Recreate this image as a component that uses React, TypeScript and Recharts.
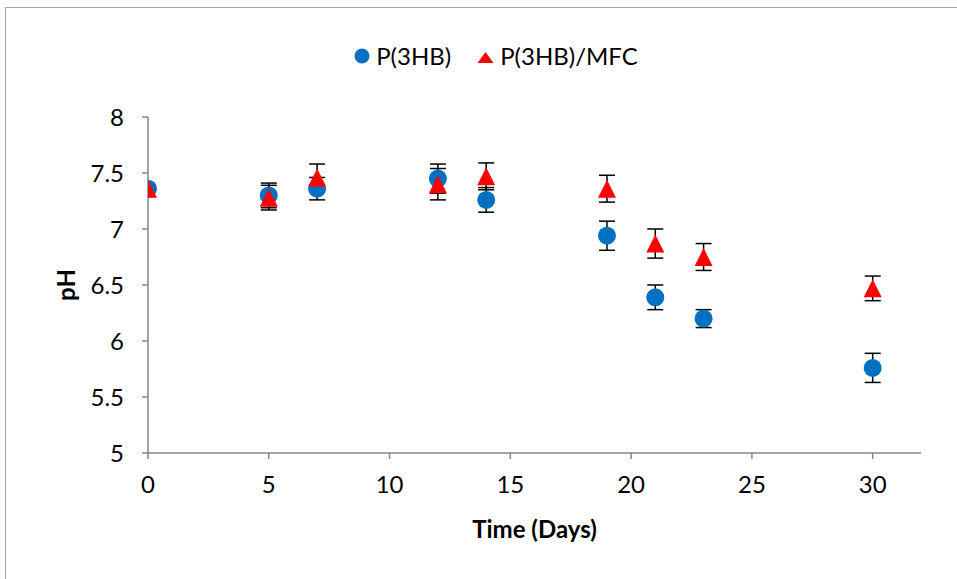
import React from "react";
import { ScatterChart, Scatter, XAxis, YAxis, ErrorBar } from "recharts";

// sampling days
const days = [0, 5, 7, 12, 14, 19, 21, 23, 30];

// P(3HB)
const phP3hb = [7.36, 7.3, 7.36, 7.45, 7.26, 6.94, 6.39, 6.2, 5.76];
const errP3hb = [0, 0.11, 0.1, 0.13, 0.11, 0.13, 0.11, 0.08, 0.13];

// P(3HB)/MFC
const phMfc = [7.36, 7.28, 7.46, 7.4, 7.47, 7.36, 6.87, 6.75, 6.47];
const errMfc = [0, 0.11, 0.12, 0.14, 0.12, 0.12, 0.13, 0.12, 0.11];

const xTicks = [0, 5, 10, 15, 20, 25, 30];
const yTicks = [5, 5.5, 6, 6.5, 7, 7.5, 8];

const BLUE = "#0070C0";
const RED = "#FF0000";
const AXIS = "#868686";
const FONT = "Lato, 'Open Sans', sans-serif";

const dataP3hb = days.map((d, i) => ({ day: d, ph: phP3hb[i], err: errP3hb[i] }));
const dataMfc = days.map((d, i) => ({ day: d, ph: phMfc[i], err: errMfc[i] }));

const CircleMark = (props: any) => {
  const { cx, cy } = props;
  return <circle cx={cx} cy={cy} r={9} fill={BLUE} />;
};

const TriangleMark = (props: any) => {
  const { cx, cy } = props;
  return (
    <polygon
      points={`${cx},${cy - 9} ${cx + 9},${cy + 9} ${cx - 9},${cy + 9}`}
      fill={RED}
    />
  );
};

export default function App() {
  return (
    <div
      style={{
        position: "absolute",
        left: 0,
        top: 0,
        width: 957,
        height: 579,
        overflow: "hidden",
        background: "#fff",
        fontFamily: FONT,
      }}
    >
      {/* chart frame */}
      <div
        style={{
          position: "absolute",
          left: 5,
          top: 7,
          width: 970,
          height: 600,
          borderLeft: "1px solid #a6a6a6",
          borderTop: "1px solid #a6a6a6",
        }}
      />

      {/* legend */}
      <div
        style={{
          position: "absolute",
          top: 41,
          left: 0,
          width: 957,
          display: "flex",
          justifyContent: "center",
          alignItems: "center",
          fontSize: 24,
          color: "#000",
          paddingLeft: 35,
          boxSizing: "border-box",
        }}
      >
        <svg width={16} height={16} style={{ marginRight: 6 }}>
          <circle cx={8} cy={8} r={7.5} fill={BLUE} />
        </svg>
        <span>P(3HB)</span>
        <svg width={17} height={16} style={{ marginLeft: 26, marginRight: 6 }}>
          <polygon points="8.5,4 16.5,15 0.5,15" fill={RED} />
        </svg>
        <span>P(3HB)/MFC</span>
      </div>

      <div style={{ position: "absolute", left: 0, top: 0 }}>
        <ScatterChart
          width={957}
          height={579}
          margin={{ top: 117, right: 36, bottom: 86, left: 0 }}
        >
          <XAxis
            type="number"
            dataKey="day"
            domain={[0, 32]}
            ticks={xTicks}
            allowDataOverflow
            stroke={AXIS}
            strokeWidth={1.5}
            tickSize={6}
            tickMargin={17}
            height={40}
            tick={{ fill: "#000", fontSize: 24, fontFamily: FONT }}
            label={{
              value: "Time (Days)",
              position: "bottom",
              offset: 28,
              style: { fill: "#000", fontSize: 24, fontWeight: 700, fontFamily: FONT },
            }}
          />
          <YAxis
            type="number"
            dataKey="ph"
            domain={[5, 8]}
            ticks={yTicks}
            stroke={AXIS}
            strokeWidth={1.5}
            tickSize={6}
            tickMargin={18}
            width={148}
            tick={{ fill: "#000", fontSize: 24, fontFamily: FONT }}
            label={{
              value: "pH",
              angle: -90,
              position: "insideLeft",
              offset: 66,
              style: { fill: "#000", fontSize: 24, fontWeight: 700, fontFamily: FONT, textAnchor: "middle" },
            }}
          />
          <Scatter
            name="P(3HB)"
            data={dataP3hb}
            fill={BLUE}
            shape={CircleMark}
            isAnimationActive={false}
          >
            <ErrorBar dataKey="err" direction="y" width={8} stroke="#000" strokeWidth={1.5} />
          </Scatter>
          <Scatter
            name="P(3HB)/MFC"
            data={dataMfc}
            fill={RED}
            shape={TriangleMark}
            isAnimationActive={false}
          >
            <ErrorBar dataKey="err" direction="y" width={8} stroke="#000" strokeWidth={1.5} />
          </Scatter>
        </ScatterChart>
      </div>
    </div>
  );
}
